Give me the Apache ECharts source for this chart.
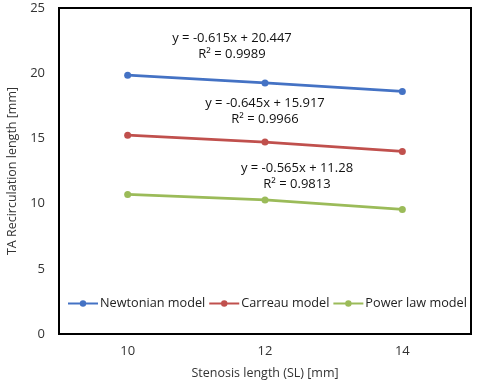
<!DOCTYPE html>
<html>
<head>
<meta charset="utf-8">
<script src="https://cdn.jsdelivr.net/npm/echarts@6/dist/echarts.min.js"></script>
<style>
  html, body { margin: 0; padding: 0; background: #fff; }
  #chart { width: 480px; height: 383px; }
</style>
</head>
<body>
<div id="chart"></div>
<script>
const categories = ['10', '12', '14']
const seriesNames = ['Newtonian model', 'Carreau model', 'Power law model']
const newtonian = [19.85, 19.25, 18.6]
const carreau = [15.25, 14.72, 14.0]
const powerLaw = [10.7, 10.28, 9.55]
const equations = [
  'y = -0.615x + 20.447\nR² = 0.9989',
  'y = -0.645x + 15.917\nR² = 0.9966',
  'y = -0.565x + 11.28\nR² = 0.9813'
]
const colors = ['#4472C4', '#C0504D', '#9BBB59']

const chart = echarts.init(document.getElementById('chart'))
const font = 'Open Sans, sans-serif'

// equation labels placed like the excel trendline labels
const eqPos = [[232, 30], [265, 95], [297, 160]]

const option = {
  animation: false,
  grid: {
    left: 59, right: 9, top: 8, bottom: 49,
    outerBoundsMode: 'none', containLabel: false,
    show: true, borderColor: '#000', borderWidth: 2
  },
  legend: {
    top: 292,
    left: 62,
    width: 460,
    itemWidth: 30,
    itemHeight: 8,
    itemGap: 3,
    textStyle: { fontFamily: font, fontSize: 12.7, color: '#222', padding: [0, 0, 0, -3] },
    data: seriesNames
  },
  xAxis: {
    type: 'category',
    data: categories,
    boundaryGap: true,
    name: 'Stenosis length (SL) [mm]',
    nameLocation: 'middle',
    nameGap: 33,
    nameTextStyle: { fontFamily: font, fontSize: 12.5, color: '#333' },
    axisLine: { lineStyle: { color: '#000', width: 2 } },
    axisTick: { show: false },
    axisLabel: { fontFamily: font, fontSize: 13, color: '#333', margin: 11 }
  },
  yAxis: {
    type: 'value',
    min: 0,
    max: 25,
    interval: 5,
    name: 'TA Recirculation length [mm]',
    nameLocation: 'middle',
    nameGap: 27,
    nameTextStyle: { fontFamily: font, fontSize: 12.5, color: '#333' },
    axisLine: { show: true, lineStyle: { color: '#000', width: 2 } },
    axisTick: { show: false },
    splitLine: { show: false },
    axisLabel: { fontFamily: font, fontSize: 13, color: '#333', margin: 14 }
  },
  series: [newtonian, carreau, powerLaw].map((d, i) => ({
    name: seriesNames[i],
    type: 'line',
    data: d,
    symbol: 'circle',
    symbolSize: 7,
    color: colors[i],
    lineStyle: { width: 2.75, color: colors[i] },
    itemStyle: { color: colors[i] }
  })),
  graphic: equations.map((t, i) => ({
    type: 'text',
    x: eqPos[i][0],
    y: eqPos[i][1],
    style: {
      text: t,
      align: 'center',
      font: '13px ' + font,
      fill: '#111',
      lineHeight: 16
    }
  }))
}

chart.setOption(option)
</script>
</body>
</html>
